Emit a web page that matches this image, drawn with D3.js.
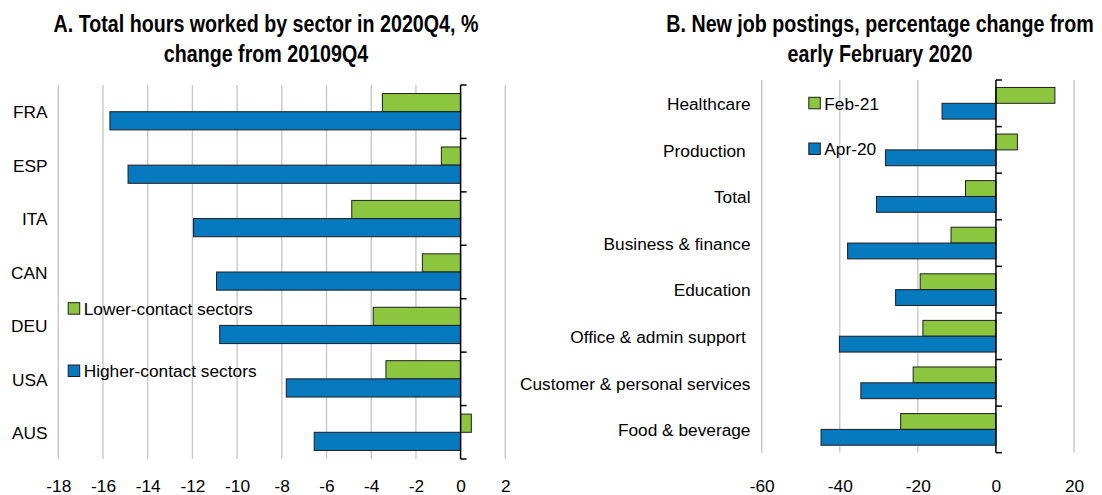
<!DOCTYPE html>
<html>
<head>
<meta charset="utf-8">
<script src="https://cdn.jsdelivr.net/npm/d3@7/dist/d3.min.js"></script>
<style>
  html, body { margin: 0; padding: 0; background: #fff; }
  svg { display: block; }
  text { white-space: pre; }
</style>
</head>
<body>
<svg id="chart" width="1102" height="495" xml:space="preserve"></svg>
<script>
// ---------------- DATA ----------------
const titleA = ["A. Total hours worked by sector in 2020Q4, %", "change from 20109Q4"];
const categoriesA = ["FRA", "ESP", "ITA", "CAN", "DEU", "USA", "AUS"];
const lowerContact = [-3.5, -0.86, -4.87, -1.71, -3.91, -3.34, 0.48];
const higherContact = [-15.69, -14.88, -11.95, -10.92, -10.78, -7.8, -6.55];
const ticksA = [-18, -16, -14, -12, -10, -8, -6, -4, -2, 0, 2];
const legendA = ["Lower-contact sectors", "Higher-contact sectors"];

const titleB = ["B. New job postings, percentage change from", "early February 2020"];
const categoriesB = ["Healthcare", "Production ", "Total", "Business & finance", "Education",
  "Office & admin support ", "Customer & personal services", "Food & beverage"];
const feb21 = [15.1, 5.5, -7.8, -11.5, -19.4, -18.7, -21.2, -24.4];
const apr20 = [-13.8, -28.3, -30.6, -38.0, -25.7, -40.1, -34.6, -44.8];
const ticksB = [-60, -40, -20, 0, 20];
const legendB = ["Feb-21", "Apr-20"];

// ---------------- STYLE ----------------
const GREEN = "#8cc63f";
const BLUE = "#0779be";
const GRID = "#c8c8c8";
const BARSTROKE = "#1e1e1e";

function hasFont(name) {
  const c = document.createElement("canvas").getContext("2d");
  const s = "abcdefghijklmnopqrstuvwxyz ABCDEFGH";
  c.font = "40px monospace";
  const w1 = c.measureText(s).width;
  c.font = "40px '" + name + "', monospace";
  return c.measureText(s).width !== w1;
}
const narrow = hasFont("Liberation Sans Narrow");
const TITLE_FONT = narrow ? "'Liberation Sans Narrow', sans-serif" : "'Liberation Sans', Arial, sans-serif";
const TITLE_SIZE = 24;
const TITLE_SX = narrow ? 1 : 0.82;   // emulate a condensed bold face
const FONT = "'Liberation Sans', Arial, sans-serif";
const FS = 17.3;

const svg = d3.select("#chart");

function panel(cfg) {
  const g = svg.append("g");
  const x = d3.scaleLinear().domain(cfg.domain).range(cfg.xRange);
  const y = d3.scaleBand().domain(cfg.categories).range(cfg.yRange)
    .paddingInner(0.32).paddingOuter(0.16);
  const sub = d3.scaleBand().domain([0, 1]).range([0, y.bandwidth()]);

  // title
  cfg.title.forEach((line, i) => {
    g.append("text")
      .attr("transform", `translate(${cfg.titleX},${32 + i * 30}) scale(${TITLE_SX},1)`)
      .attr("text-anchor", "middle")
      .style("font-family", TITLE_FONT).style("font-size", TITLE_SIZE + "px")
      .style("font-weight", "bold").attr("fill", "#000")
      .text(line);
  });

  // gridlines
  g.append("g").selectAll("line")
    .data(cfg.ticks.filter(t => t !== 0)).join("line")
    .attr("x1", d => x(d)).attr("x2", d => x(d))
    .attr("y1", cfg.yRange[0]).attr("y2", cfg.yRange[1])
    .attr("stroke", GRID).attr("stroke-width", 1.4);

  // bars
  const series = [
    { values: cfg.s1, color: GREEN, k: 0 },
    { values: cfg.s2, color: BLUE, k: 1 }
  ];
  series.forEach(s => {
    g.append("g").selectAll("rect")
      .data(cfg.categories.map((c, i) => ({ c, v: s.values[i] }))).join("rect")
      .attr("x", d => x(Math.min(0, d.v)))
      .attr("width", d => Math.abs(x(d.v) - x(0)))
      .attr("y", d => y(d.c) + sub(s.k))
      .attr("height", sub.bandwidth())
      .attr("fill", s.color)
      .attr("stroke", BARSTROKE).attr("stroke-width", 1);
  });

  // zero axis with ticks on right side at band boundaries
  const yAxis = d3.axisRight(y).tickSize(0).tickFormat("");
  const ax = g.append("g").attr("transform", `translate(${x(0)},0)`).call(yAxis);
  ax.select(".domain").attr("stroke", "#000").attr("stroke-width", 1.5)
    .attr("d", `M0,${cfg.yRange[0]}V${cfg.yRange[1]}`);
  const bounds = d3.range(cfg.categories.length + 1).map(i =>
    i < cfg.categories.length ? y(cfg.categories[i]) - y.step() * y.paddingInner() / 2 : cfg.yRange[1]);
  bounds[0] = cfg.yRange[0];
  ax.append("g").selectAll("line").data(bounds).join("line")
    .attr("x1", 0).attr("x2", 6).attr("y1", d => d).attr("y2", d => d)
    .attr("stroke", "#000").attr("stroke-width", 1.5);

  // category labels
  g.append("g").selectAll("text").data(cfg.categories).join("text")
    .attr("x", cfg.labelX).attr("y", d => y(d) + y.bandwidth() / 2)
    .attr("dy", "0.39em").attr("text-anchor", "end")
    .attr("xml:space", "preserve")
    .style("font-family", FONT).style("font-size", FS + "px").attr("fill", "#000")
    .text(d => d);

  // x axis tick labels
  const xAxis = d3.axisBottom(x).tickValues(cfg.ticks).tickSize(0)
    .tickPadding(491.7 - cfg.yRange[1] - 0.71 * FS).tickFormat(d => String(d));
  const xa = g.append("g").attr("transform", `translate(0,${cfg.yRange[1]})`).call(xAxis);
  xa.select(".domain").remove();
  xa.selectAll("text").style("font-family", FONT).style("font-size", FS + "px").attr("fill", "#000");

  // legend
  const lg = g.append("g");
  cfg.legend.forEach((name, i) => {
    const L = cfg.legendPos[i];
    lg.append("rect").attr("x", L.x).attr("y", L.y).attr("width", 11.5).attr("height", 11.5)
      .attr("fill", i === 0 ? GREEN : BLUE).attr("stroke", BARSTROKE).attr("stroke-width", 1);
    lg.append("text").attr("x", L.x + 15.5).attr("y", L.y + 12.4)
      .style("font-family", FONT).style("font-size", FS + "px").attr("fill", "#000")
      .text(name);
  });
}

panel({
  title: titleA, titleX: 266,
  categories: categoriesA, s1: lowerContact, s2: higherContact,
  domain: [-18, 2], xRange: [58.3, 505.3], yRange: [85, 459],
  ticks: ticksA, labelX: 47.5,
  legend: legendA,
  legendPos: [{ x: 68.2, y: 302.7 }, { x: 68.2, y: 365 }]
});

panel({
  title: titleB, titleX: 880,
  categories: categoriesB, s1: feb21, s2: apr20,
  domain: [-60, 20], xRange: [761.7, 1074], yRange: [80, 452.7],
  ticks: ticksB, labelX: 750.5,
  legend: legendB,
  legendPos: [{ x: 808.8, y: 97.3 }, { x: 808.8, y: 143 }]
});
</script>
</body>
</html>
